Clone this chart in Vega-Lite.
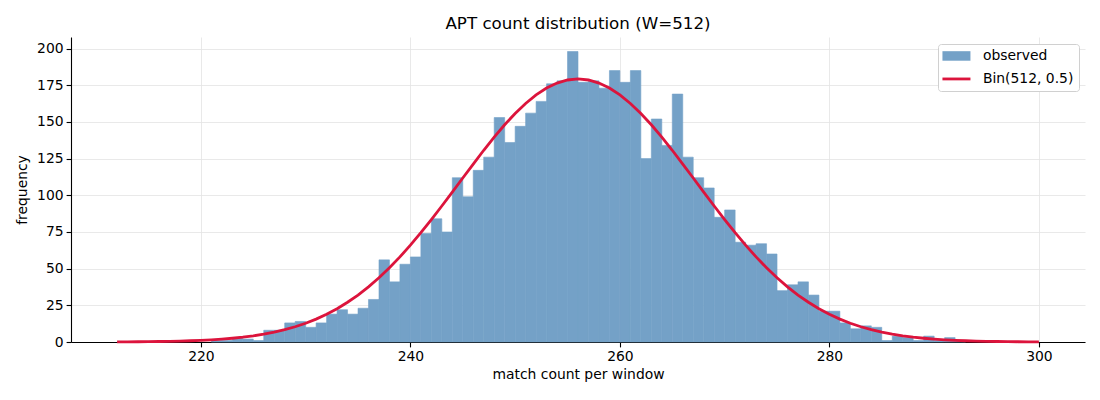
{
  "$schema": "https://vega.github.io/schema/vega-lite/v6.json",
  "autosize": {"type": "none"},
  "width": 1014,
  "height": 305,
  "padding": {"left": 71, "top": 37, "right": 15, "bottom": 58},
  "title": {
    "text": "APT count distribution (W=512)",
    "font": "DejaVu Sans",
    "fontSize": 16.7,
    "fontWeight": "normal",
    "color": "black",
    "anchor": "middle",
    "offset": 4
  },
  "config": {
    "view": {"stroke": null},
    "font": "DejaVu Sans",
    "axis": {
      "labelFont": "DejaVu Sans",
      "labelFontSize": 13.9,
      "labelColor": "black",
      "titleFont": "DejaVu Sans",
      "titleFontSize": 13.9,
      "titleFontWeight": "normal",
      "titleColor": "black",
      "domainColor": "black",
      "domainWidth": 1.1,
      "tickColor": "black",
      "tickSize": 4.9,
      "tickWidth": 1.1,
      "labelPadding": 3,
      "gridColor": "#e3e3e3",
      "gridWidth": 0.8
    },
    "legend": {
      "labelFont": "DejaVu Sans",
      "labelFontSize": 13.9,
      "labelColor": "black"
    }
  },
  "datasets": {
    "observed": [
      {"k": 221, "k_end": 222, "count": 1},
      {"k": 222, "k_end": 223, "count": 1},
      {"k": 223, "k_end": 224, "count": 3},
      {"k": 224, "k_end": 225, "count": 2},
      {"k": 225, "k_end": 226, "count": 1},
      {"k": 226, "k_end": 227, "count": 8},
      {"k": 227, "k_end": 228, "count": 8},
      {"k": 228, "k_end": 229, "count": 13},
      {"k": 229, "k_end": 230, "count": 14},
      {"k": 230, "k_end": 231, "count": 10},
      {"k": 231, "k_end": 232, "count": 13},
      {"k": 232, "k_end": 233, "count": 19},
      {"k": 233, "k_end": 234, "count": 22},
      {"k": 234, "k_end": 235, "count": 19},
      {"k": 235, "k_end": 236, "count": 23},
      {"k": 236, "k_end": 237, "count": 29},
      {"k": 237, "k_end": 238, "count": 56},
      {"k": 238, "k_end": 239, "count": 41},
      {"k": 239, "k_end": 240, "count": 53},
      {"k": 240, "k_end": 241, "count": 58},
      {"k": 241, "k_end": 242, "count": 74},
      {"k": 242, "k_end": 243, "count": 84},
      {"k": 243, "k_end": 244, "count": 75},
      {"k": 244, "k_end": 245, "count": 112},
      {"k": 245, "k_end": 246, "count": 99},
      {"k": 246, "k_end": 247, "count": 117},
      {"k": 247, "k_end": 248, "count": 126},
      {"k": 248, "k_end": 249, "count": 153},
      {"k": 249, "k_end": 250, "count": 136},
      {"k": 250, "k_end": 251, "count": 147},
      {"k": 251, "k_end": 252, "count": 156},
      {"k": 252, "k_end": 253, "count": 164},
      {"k": 253, "k_end": 254, "count": 176},
      {"k": 254, "k_end": 255, "count": 178},
      {"k": 255, "k_end": 256, "count": 198},
      {"k": 256, "k_end": 257, "count": 177},
      {"k": 257, "k_end": 258, "count": 178},
      {"k": 258, "k_end": 259, "count": 173},
      {"k": 259, "k_end": 260, "count": 185},
      {"k": 260, "k_end": 261, "count": 177},
      {"k": 261, "k_end": 262, "count": 185},
      {"k": 262, "k_end": 263, "count": 125},
      {"k": 263, "k_end": 264, "count": 152},
      {"k": 264, "k_end": 265, "count": 134},
      {"k": 265, "k_end": 266, "count": 169},
      {"k": 266, "k_end": 267, "count": 126},
      {"k": 267, "k_end": 268, "count": 112},
      {"k": 268, "k_end": 269, "count": 105},
      {"k": 269, "k_end": 270, "count": 85},
      {"k": 270, "k_end": 271, "count": 90},
      {"k": 271, "k_end": 272, "count": 68},
      {"k": 272, "k_end": 273, "count": 66},
      {"k": 273, "k_end": 274, "count": 67},
      {"k": 274, "k_end": 275, "count": 60},
      {"k": 275, "k_end": 276, "count": 35},
      {"k": 276, "k_end": 277, "count": 39},
      {"k": 277, "k_end": 278, "count": 41},
      {"k": 278, "k_end": 279, "count": 32},
      {"k": 279, "k_end": 280, "count": 21},
      {"k": 280, "k_end": 281, "count": 21},
      {"k": 281, "k_end": 282, "count": 13},
      {"k": 282, "k_end": 283, "count": 9},
      {"k": 283, "k_end": 284, "count": 11},
      {"k": 284, "k_end": 285, "count": 10},
      {"k": 285, "k_end": 286, "count": 1},
      {"k": 286, "k_end": 287, "count": 4},
      {"k": 287, "k_end": 288, "count": 3},
      {"k": 288, "k_end": 289, "count": 1},
      {"k": 289, "k_end": 290, "count": 4},
      {"k": 290, "k_end": 291, "count": 1},
      {"k": 291, "k_end": 292, "count": 3},
      {"k": 292, "k_end": 293, "count": 1}
    ],
    "expected": [
      {"k": 212, "freq": 0.09}, {"k": 213, "freq": 0.13}, {"k": 214, "freq": 0.18},
      {"k": 215, "freq": 0.25}, {"k": 216, "freq": 0.35}, {"k": 217, "freq": 0.47},
      {"k": 218, "freq": 0.64}, {"k": 219, "freq": 0.85}, {"k": 220, "freq": 1.14},
      {"k": 221, "freq": 1.5}, {"k": 222, "freq": 1.96}, {"k": 223, "freq": 2.55},
      {"k": 224, "freq": 3.28}, {"k": 225, "freq": 4.2}, {"k": 226, "freq": 5.33},
      {"k": 227, "freq": 6.71}, {"k": 228, "freq": 8.39}, {"k": 229, "freq": 10.4},
      {"k": 230, "freq": 12.8}, {"k": 231, "freq": 15.6}, {"k": 232, "freq": 18.9},
      {"k": 233, "freq": 22.7}, {"k": 234, "freq": 27.1}, {"k": 235, "freq": 32.0},
      {"k": 236, "freq": 37.6}, {"k": 237, "freq": 43.8}, {"k": 238, "freq": 50.6},
      {"k": 239, "freq": 58.0}, {"k": 240, "freq": 66.0}, {"k": 241, "freq": 74.5},
      {"k": 242, "freq": 83.4}, {"k": 243, "freq": 92.7}, {"k": 244, "freq": 102.2},
      {"k": 245, "freq": 111.8}, {"k": 246, "freq": 121.3}, {"k": 247, "freq": 130.7},
      {"k": 248, "freq": 139.6}, {"k": 249, "freq": 148.1}, {"k": 250, "freq": 155.8},
      {"k": 251, "freq": 162.6}, {"k": 252, "freq": 168.4}, {"k": 253, "freq": 173.1},
      {"k": 254, "freq": 176.5}, {"k": 255, "freq": 178.6}, {"k": 256, "freq": 179.3},
      {"k": 257, "freq": 178.6}, {"k": 258, "freq": 176.5}, {"k": 259, "freq": 173.1},
      {"k": 260, "freq": 168.4}, {"k": 261, "freq": 162.6}, {"k": 262, "freq": 155.8},
      {"k": 263, "freq": 148.1}, {"k": 264, "freq": 139.6}, {"k": 265, "freq": 130.7},
      {"k": 266, "freq": 121.3}, {"k": 267, "freq": 111.8}, {"k": 268, "freq": 102.2},
      {"k": 269, "freq": 92.7}, {"k": 270, "freq": 83.4}, {"k": 271, "freq": 74.5},
      {"k": 272, "freq": 66.0}, {"k": 273, "freq": 58.0}, {"k": 274, "freq": 50.6},
      {"k": 275, "freq": 43.8}, {"k": 276, "freq": 37.6}, {"k": 277, "freq": 32.0},
      {"k": 278, "freq": 27.1}, {"k": 279, "freq": 22.7}, {"k": 280, "freq": 18.9},
      {"k": 281, "freq": 15.6}, {"k": 282, "freq": 12.8}, {"k": 283, "freq": 10.4},
      {"k": 284, "freq": 8.39}, {"k": 285, "freq": 6.71}, {"k": 286, "freq": 5.33},
      {"k": 287, "freq": 4.2}, {"k": 288, "freq": 3.28}, {"k": 289, "freq": 2.55},
      {"k": 290, "freq": 1.96}, {"k": 291, "freq": 1.5}, {"k": 292, "freq": 1.14},
      {"k": 293, "freq": 0.85}, {"k": 294, "freq": 0.64}, {"k": 295, "freq": 0.47},
      {"k": 296, "freq": 0.35}, {"k": 297, "freq": 0.25}, {"k": 298, "freq": 0.18},
      {"k": 299, "freq": 0.13}, {"k": 300, "freq": 0.09}
    ]
  },
  "encoding": {
    "x": {
      "type": "quantitative",
      "scale": {"domain": [207.6, 304.4], "nice": false, "zero": false},
      "axis": {"values": [220, 240, 260, 280, 300], "title": "match count per window", "titlePadding": 4, "grid": true}
    },
    "y": {
      "type": "quantitative",
      "scale": {"domain": [0, 207.9], "nice": false},
      "axis": {"values": [0, 25, 50, 75, 100, 125, 150, 175, 200], "title": "frequency", "titlePadding": 7, "grid": true}
    }
  },
  "layer": [
    {
      "data": {"name": "observed"},
      "mark": {"type": "bar", "stroke": "#74a1c7", "strokeWidth": 0.6},
      "encoding": {
        "x": {"field": "k"},
        "x2": {"field": "k_end"},
        "y": {"field": "count"},
        "y2": {"datum": 0},
        "color": {
          "datum": "observed",
          "type": "nominal",
          "scale": {"domain": ["observed", "Bin(512, 0.5)"], "range": ["#74a1c7", "#dc143c"]},
          "legend": {
            "title": null,
            "orient": "none",
            "legendX": 867,
            "legendY": 7,
            "padding": 5,
            "fillColor": "white",
            "strokeColor": "#d0d0d0",
            "cornerRadius": 3,
            "rowPadding": 8,
            "labelOffset": 19.5,
            "symbolOffset": 6.5,
            "symbolSize": 196,
            "symbolType": "M-2,-0.68H2V0.68H-2Z",
            "encode": {
              "symbols": {
                "update": {
                  "shape": {"signal": "datum.value === 'observed' ? 'M-2,-0.68H2V0.68H-2Z' : 'M-2,0H2'"},
                  "fill": {"signal": "datum.value === 'observed' ? '#74a1c7' : 'transparent'"},
                  "stroke": {"signal": "datum.value === 'observed' ? '#74a1c7' : '#dc143c'"},
                  "strokeWidth": {"signal": "datum.value === 'observed' ? 0 : 2.8"},
                  "opacity": {"value": 1}
                }
              }
            }
          }
        }
      }
    },
    {
      "data": {"name": "expected"},
      "mark": {"type": "line", "strokeWidth": 2.8},
      "encoding": {
        "x": {"field": "k"},
        "y": {"field": "freq"},
        "color": {
          "datum": "Bin(512, 0.5)",
          "type": "nominal",
          "legend": {
            "title": null,
            "orient": "none",
            "legendX": 867,
            "legendY": 7,
            "padding": 5,
            "fillColor": "white",
            "strokeColor": "#d0d0d0",
            "cornerRadius": 3,
            "rowPadding": 8,
            "labelOffset": 19.5,
            "symbolOffset": 6.5,
            "symbolSize": 196,
            "symbolType": "M-2,-0.68H2V0.68H-2Z",
            "encode": {
              "symbols": {
                "update": {
                  "shape": {"signal": "datum.value === 'observed' ? 'M-2,-0.68H2V0.68H-2Z' : 'M-2,0H2'"},
                  "fill": {"signal": "datum.value === 'observed' ? '#74a1c7' : 'transparent'"},
                  "stroke": {"signal": "datum.value === 'observed' ? '#74a1c7' : '#dc143c'"},
                  "strokeWidth": {"signal": "datum.value === 'observed' ? 0 : 2.8"},
                  "opacity": {"value": 1}
                }
              }
            }
          }
        }
      }
    }
  ]
}
